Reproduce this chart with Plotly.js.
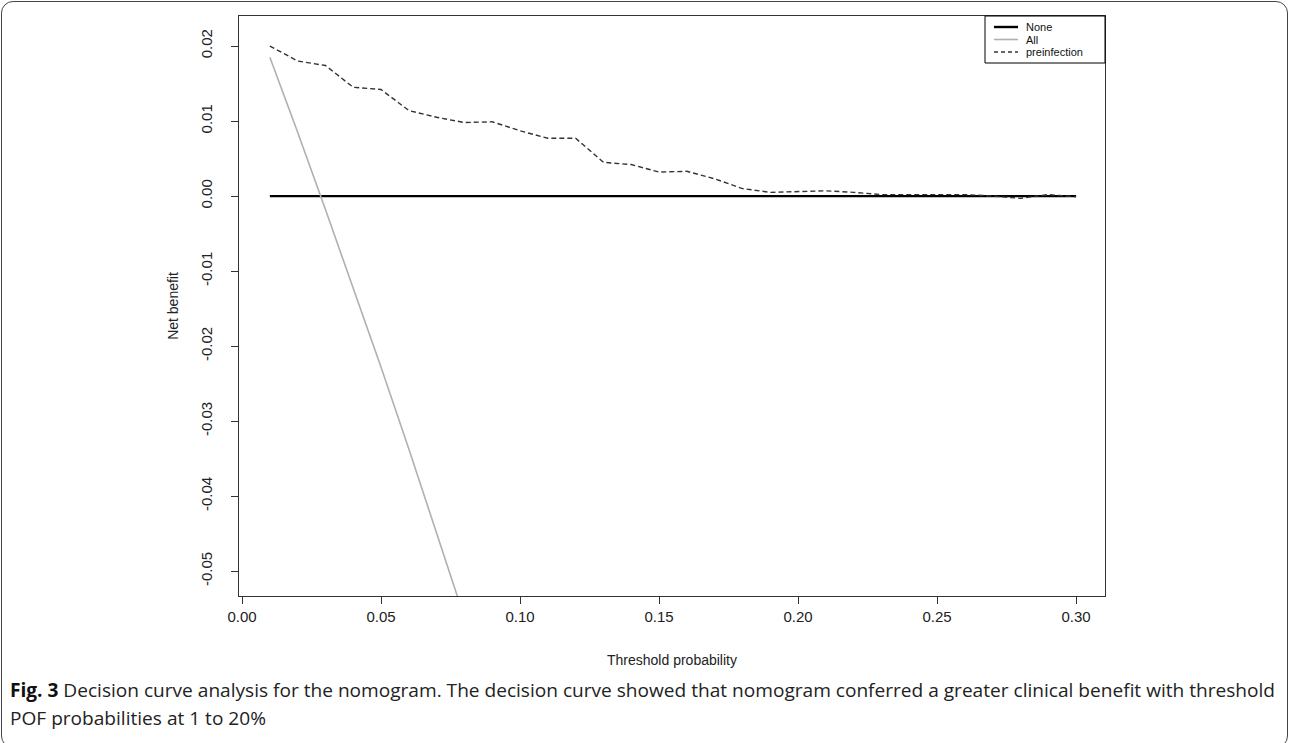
<!DOCTYPE html>
<html>
<head>
<meta charset="utf-8">
<script src="https://cdn.plot.ly/plotly-3.0.1.min.js"></script>
<style>
  html, body { margin:0; padding:0; background:#fff; }
  #wrap { position:relative; width:1290px; height:743px; overflow:hidden; }
  #chart { position:absolute; left:0; top:0; width:1290px; height:743px; }
  #frame { position:absolute; left:1px; top:1px; width:1285px; height:745px; border:1px solid #444; border-radius:12px; pointer-events:none; }
  .cap { position:absolute; left:10px; white-space:nowrap; font-family:"Open Sans","Noto Sans",sans-serif; color:#222; transform-origin:0 50%; }
  .cap b { color:#111; }
</style>
</head>
<body>
<div id="wrap">
  <div id="chart"></div>
  <div id="frame"></div>
  <div class="cap" id="cap1" style="top:677px;"><b>Fig. 3</b> Decision curve analysis for the nomogram. The decision curve showed that nomogram conferred a greater clinical benefit with threshold</div>
  <div class="cap" id="cap2" style="top:705px;">POF probabilities at 1 to 20%</div>
</div>
<script>
// ---- data ----
const thresholds = [0.01,0.02,0.03,0.04,0.05,0.06,0.07,0.08,0.09,0.10,
                    0.11,0.12,0.13,0.14,0.15,0.16,0.17,0.18,0.19,0.20,
                    0.21,0.22,0.23,0.24,0.25,0.26,0.27,0.28,0.29,0.30];
const noneNB = [0,0,0,0,0,0,0,0,0,0, 0,0,0,0,0,0,0,0,0,0, 0,0,0,0,0,0,0,0,0,0];
const preinfectionNB = [0.0200,0.0180,0.0174,0.0145,0.0142,0.0114,0.0105,0.0098,0.0099,0.0087,
                        0.0077,0.0077,0.0045,0.0042,0.0032,0.0033,0.0023,0.0010,0.0005,0.0006,
                        0.0007,0.0005,0.0002,0.0002,0.0002,0.0002,0.0000,-0.0003,0.0002,-0.0001];
const allX  = [0.01,0.02,0.03,0.04,0.05,0.06,0.07,0.08];
const allNB = [0.0185,0.0085,-0.0018,-0.0122,-0.0228,-0.0337,-0.0448,-0.0562];
const xTickVals = [0,0.05,0.10,0.15,0.20,0.25,0.30];
const xTickText = ["0.00","0.05","0.10","0.15","0.20","0.25","0.30"];
const yTickVals = [-0.05,-0.04,-0.03,-0.02,-0.01,0,0.01,0.02];
const yTickText = ["-0.05","-0.04","-0.03","-0.02","-0.01","0.00","0.01","0.02"];
const legendNames = ["None","All","preinfection"];

// ---- layout geometry ----
const L = 239, R = 1105, T = 16, B = 596;
const W = 1290, H = 743;
const px = x => (x - L) / (R - L);
const py = y => (B - y) / (B - T);

const traces = [
  {x: thresholds, y: noneNB, mode:'lines', name: legendNames[0],
   line:{color:'#000', width:2.4}, hoverinfo:'skip', showlegend:false},
  {x: allX, y: allNB, mode:'lines', name: legendNames[1],
   line:{color:'#b0b0b0', width:1.6}, hoverinfo:'skip', showlegend:false},
  {x: thresholds, y: preinfectionNB, mode:'lines', name: legendNames[2],
   line:{color:'#333', width:1.4, dash:'5px,3px'}, hoverinfo:'skip', showlegend:false}
];

// manual legend (R style, compact)
const legStyles = [
  {color:'#000', width:2.4, dash:'solid'},
  {color:'#b0b0b0', width:1.6, dash:'solid'},
  {color:'#333', width:1.4, dash:'4px,3px'}
];
const legY = [27, 39.5, 52];
const shapes = [
  {type:'rect', xref:'paper', yref:'paper', x0:px(985), x1:px(1105), y0:py(63), y1:py(16),
   line:{color:'#000', width:1}, fillcolor:'rgba(0,0,0,0)'}
];
const annotations = [];
legendNames.forEach((n,i) => {
  shapes.push({type:'line', xref:'paper', yref:'paper', x0:px(994), x1:px(1018),
    y0:py(legY[i]), y1:py(legY[i]), line:legStyles[i]});
  annotations.push({xref:'paper', yref:'paper', x:px(1026), y:py(legY[i]), text:n,
    showarrow:false, xanchor:'left', yanchor:'middle', borderpad:0, borderwidth:0,
    font:{family:'Liberation Sans, Arial, sans-serif', size:11, color:'#111'}});
});

const axFont = {family:'Liberation Sans, Arial, sans-serif', size:15, color:'#222'};
const titleFont = {family:'Liberation Sans, Arial, sans-serif', size:14, color:'#222'};
const layout = {
  width: W, height: H,
  margin:{l:L, r:W-R, t:T, b:H-B, pad:0},
  paper_bgcolor:'rgba(0,0,0,0)', plot_bgcolor:'#fff',
  showlegend:false,
  xaxis:{range:[-0.0011,0.3104], tickvals:xTickVals, ticktext:xTickText,
    ticks:'outside', ticklen:7, tickcolor:'#333', tickwidth:1,
    showline:true, mirror:true, linecolor:'#333', linewidth:1,
    showgrid:false, zeroline:false, tickfont:axFont,
    title:{text:'Threshold probability', font:titleFont, standoff:31}},
  yaxis:{range:[-0.0533,0.024], tickvals:yTickVals, ticktext:yTickText,
    ticks:'outside', ticklen:7, tickcolor:'#333', tickwidth:1, tickangle:-90,
    ticklabelstandoff:13,
    showline:true, mirror:true, linecolor:'#333', linewidth:1,
    showgrid:false, zeroline:false, tickfont:axFont,
    title:{text:'Net benefit', font:titleFont, standoff:16}},
  shapes: shapes,
  annotations: annotations
};

Plotly.newPlot('chart', traces, layout, {staticPlot:true, displayModeBar:false});

// fit caption line 1 to its width in the reference (condensed look via horizontal scale)
(function(){
  const c1 = document.getElementById('cap1'), c2 = document.getElementById('cap2');
  const size = 19;
  c1.style.fontSize = size + 'px';
  c2.style.fontSize = size + 'px';
  const w = c1.getBoundingClientRect().width;
  const s = 1265 / w;
  c1.style.transform = 'scaleX(' + s + ')';
  c2.style.transform = 'scaleX(' + s + ')';
})();
</script>
</body>
</html>
